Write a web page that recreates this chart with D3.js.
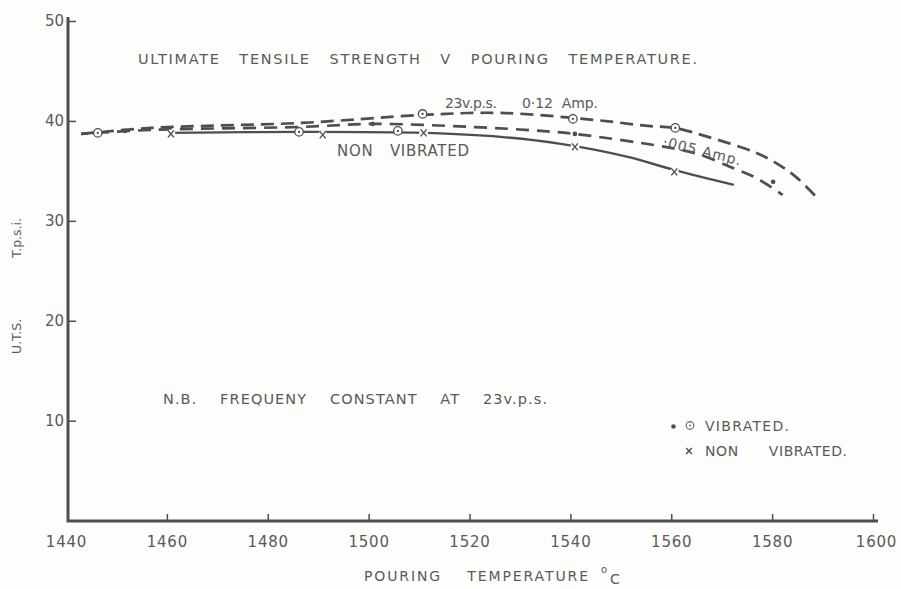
<!DOCTYPE html>
<html>
<head>
<meta charset="utf-8">
<script src="https://cdn.jsdelivr.net/npm/d3@7"></script>
<style>
  html, body { margin: 0; padding: 0; background: #fdfdfc; }
  svg { display: block; }
  text { font-family: "DejaVu Sans", sans-serif; fill: #5a5a5a; white-space: pre; }
</style>
</head>
<body>
<svg id="chart" width="901" height="589"></svg>
<script>
// Pouring temperature (deg C) and ultimate tensile strength (tons per sq. inch)
const tempTicks = [1440, 1460, 1480, 1500, 1520, 1540, 1560, 1580, 1600];
const utsTicks = [10, 20, 30, 40, 50];

// Fitted curves: [temperature, UTS]
const curve012Amp = [[1443.0, 38.7], [1456.9, 39.3], [1486.6, 39.8], [1510.8, 40.6], [1526.2, 40.8],
  [1544.7, 40.1], [1555.4, 39.5], [1560.7, 39.3], [1567.3, 38.4], [1576.4, 36.9], [1580.4, 35.9],
  [1584.7, 34.4], [1589.3, 32.1]];
const curve005Amp = [[1443.0, 38.7], [1456.9, 39.1], [1486.6, 39.4], [1500.9, 39.7], [1520.3, 39.4],
  [1534.2, 39.0], [1540.9, 38.7], [1558.8, 37.4], [1565.2, 36.7], [1572.2, 35.3], [1576.8, 34.3],
  [1582.1, 32.6]];
const curveNonVibrated = [[1460.8, 38.8], [1486.6, 38.9], [1510.8, 38.8], [1526.2, 38.4], [1538.1, 37.7],
  [1551.4, 36.4], [1560.5, 35.1], [1572.4, 33.6]];

// Test results
const vibratedRings = [[1446.3, 38.8], [1486.2, 38.9], [1505.8, 39.0], [1510.7, 40.7], [1540.5, 40.2], [1560.8, 39.3]];
const vibratedDots = [[1451.7, 39.0], [1500.8, 39.7], [1540.9, 38.7], [1580.2, 33.9]];
const nonVibratedCrosses = [[1460.8, 38.7], [1490.9, 38.6], [1510.9, 38.8], [1540.9, 37.4], [1560.6, 34.9]];

const svg = d3.select("#chart");
const ink = "#4e4e4e";

const x = d3.scaleLinear().domain([1440, 1600]).range([66, 873]);
const y = d3.scaleLinear().domain([0, 50]).range([520.6, 21]);

// Axes
const xAxis = svg.append("g").attr("transform", "translate(0,521)")
  .call(d3.axisBottom(x).tickValues(tempTicks).tickSize(-7).tickPadding(15).tickFormat(d3.format("d")));
xAxis.select(".domain").remove();
xAxis.selectAll(".tick line").attr("stroke", ink).attr("stroke-width", 1.5);
xAxis.selectAll(".tick text").attr("font-size", 15).attr("letter-spacing", 0.8)
  .attr("fill", "#5a5a5a").attr("dx", d => d === 1600 ? 3 : 0);
xAxis.selectAll(".tick").filter(d => d === 1440).select("line").remove();

const yAxis = svg.append("g").attr("transform", "translate(68,0)")
  .call(d3.axisLeft(y).tickValues(utsTicks).tickSize(-8).tickPadding(6).tickFormat(d3.format("d")));
yAxis.select(".domain").remove();
yAxis.selectAll(".tick line").attr("stroke", ink).attr("stroke-width", 1.5);
yAxis.selectAll(".tick text").attr("font-size", 15).attr("fill", "#5a5a5a").attr("dx", 2);

svg.append("path")
  .attr("d", d3.line()([[68, 17], [68, 521], [878, 521]]))
  .attr("fill", "none").attr("stroke", ink).attr("stroke-width", 3);

// Curves
const line = d3.line().x(d => x(d[0])).y(d => y(d[1])).curve(d3.curveCatmullRom.alpha(0.5));
svg.append("path").datum(curve012Amp).attr("d", line)
  .attr("fill", "none").attr("stroke", ink).attr("stroke-width", 2.7).attr("stroke-dasharray", "13 7");
svg.append("path").datum(curve005Amp).attr("d", line)
  .attr("fill", "none").attr("stroke", ink).attr("stroke-width", 2.7).attr("stroke-dasharray", "13 8")
  .attr("stroke-dashoffset", 6);
svg.append("path").datum(curveNonVibrated).attr("d", line)
  .attr("fill", "none").attr("stroke", ink).attr("stroke-width", 2.4);

// Markers
const crossPath = "M-3,-3.5L3,3.5M3,-3.5L-3,3.5";
const crosses = svg.append("g").selectAll("g").data(nonVibratedCrosses).join("g")
  .attr("transform", d => `translate(${x(d[0])},${y(d[1])})`);
crosses.append("circle").attr("r", 4.5).attr("fill", "#fdfdfc");
crosses.append("path").attr("d", crossPath).attr("stroke", ink).attr("stroke-width", 1.4);

const rings = svg.append("g").selectAll("g").data(vibratedRings).join("g")
  .attr("transform", d => `translate(${x(d[0])},${y(d[1])})`);
rings.append("circle").attr("r", 4.2).attr("fill", "#fdfdfc").attr("stroke", ink).attr("stroke-width", 1.3);
rings.append("circle").attr("r", 1.1).attr("fill", ink);

svg.append("g").selectAll("circle").data(vibratedDots).join("circle")
  .attr("cx", d => x(d[0])).attr("cy", d => y(d[1])).attr("r", 2.3).attr("fill", ink);

// Text
function label(str, px, py, size, len, extra) {
  const t = svg.append("text").attr("x", px).attr("y", py).attr("font-size", size).text(str);
  if (len) t.attr("textLength", len).attr("lengthAdjust", "spacing");
  if (extra) extra(t);
  return t;
}
label("ULTIMATE   TENSILE   STRENGTH   V   POURING   TEMPERATURE.", 138, 64, 14.5, 559);
label("23v.p.s.", 445, 108, 14, 52);
label("0·12  Amp.", 522, 108, 14, 76);
label("NON   VIBRATED", 337, 156, 15, 132);
label("·005 Amp.", 0, 0, 14, 80, t => t.attr("transform", "translate(662,146) rotate(14)"));
label("N.B.    FREQUENY    CONSTANT    AT    23v.p.s.", 163, 404, 14.5, 384);
label("VIBRATED.", 705, 431, 14, 84);
label("NON      VIBRATED.", 705, 456, 14, 142);
label("POURING    TEMPERATURE", 364, 581, 14, 224);
label("o", 601, 573, 10);
label("C", 610, 584, 14);
label("U.T.S.", 0, 0, 12.5, null, t => t.attr("transform", "translate(21,354) rotate(-90)"));
label("T.p.s.i.", 0, 0, 12.5, null, t => t.attr("transform", "translate(21,258) rotate(-90)"));

// Legend symbols
svg.append("circle").attr("cx", 673.5).attr("cy", 426.5).attr("r", 2.3).attr("fill", ink);
svg.append("circle").attr("cx", 690).attr("cy", 425.5).attr("r", 3.8).attr("fill", "none")
  .attr("stroke", "#6a6a6a").attr("stroke-width", 1.2);
svg.append("circle").attr("cx", 690).attr("cy", 425.5).attr("r", 1).attr("fill", "#6a6a6a");
svg.append("path").attr("d", "M-2.8,-3L2.8,3M2.8,-3L-2.8,3").attr("transform", "translate(689,451)")
  .attr("stroke", ink).attr("stroke-width", 1.4);
</script>
</body>
</html>
